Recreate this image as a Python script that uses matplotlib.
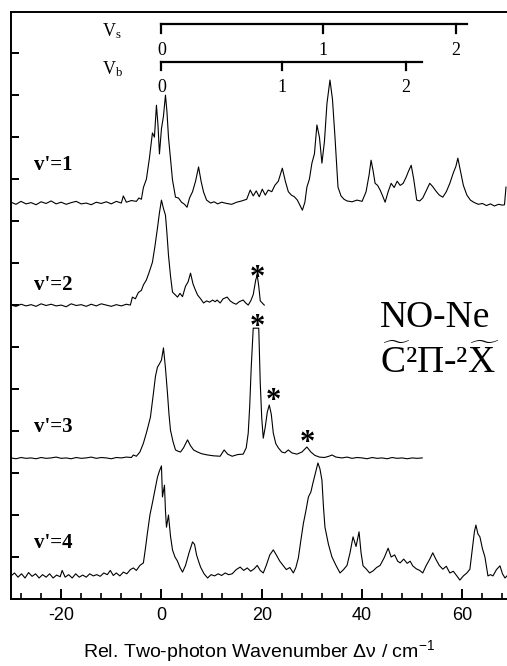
import numpy as np
import matplotlib
matplotlib.use('Agg')
import matplotlib.pyplot as plt
from matplotlib.ticker import MultipleLocator

plt.rcParams['mathtext.fontset'] = 'custom'
plt.rcParams['mathtext.rm'] = 'Liberation Serif'
plt.rcParams['mathtext.it'] = 'Liberation Serif:italic'
plt.rcParams['mathtext.sf'] = 'Liberation Sans'
plt.rcParams['axes.unicode_minus'] = False

# ---------------- данные ----------------
# v'=1
x1 = [-30, -29, -28, -27, -26, -25, -24, -23, -22, -21, -20, -19, -18, -17, -16, -15,
      -14, -13, -12, -11, -10, -9, -8, -7.6, -7, -6, -5, -4.5, -4, -3.6, -3, -2.4,
      -1.8, -1.4, -1.0, -0.7, -0.4, 0, 0.4, 0.8, 1.1, 1.4, 1.8, 2.2, 2.8, 3.4, 4.0,
      4.6, 5.1, 5.6, 6.2, 6.8, 7.4, 7.9, 8.4, 9.0, 9.8, 10.5, 11.2, 12, 13, 14, 15,
      16, 17, 17.7, 18.3, 18.9, 19.5, 20.1, 20.7, 21.3, 22, 22.6, 23.3, 24.1, 24.7,
      25.3, 25.9, 26.5, 27.1, 27.6, 28.1, 28.6, 29, 29.5, 30, 30.5, 31, 31.5, 32,
      32.5, 33, 33.6, 34.1, 34.6, 35.2, 35.8, 36.4, 37, 38, 39, 40, 40.8, 41.4, 41.8,
      42.2, 42.6, 43.1, 43.6, 44.1, 44.6, 45.2, 45.8, 46.4, 47, 47.6, 48.2, 48.8,
      49.3, 49.8, 50.3, 50.9, 51.5, 52.1, 52.7, 53.5, 54.1, 54.7, 55.4, 56.1, 56.8,
      57.5, 58.2, 58.7, 59.1, 59.6, 60.2, 60.9, 61.6, 62.4, 63.2, 64, 64.8, 65.6,
      66.4, 67.2, 68, 68.4, 68.7]
y1 = [9.45, 9.40, 9.47, 9.41, 9.44, 9.39, 9.46, 9.42, 9.48, 9.41, 9.45, 9.40, 9.44,
      9.47, 9.41, 9.43, 9.39, 9.45, 9.42, 9.46, 9.41, 9.47, 9.43, 9.60, 9.45, 9.49,
      9.47, 9.55, 9.52, 9.80, 10.0, 10.5, 11.1, 11.0, 11.76, 11.3, 10.6, 11.2, 11.5,
      12.0, 11.6, 11.0, 10.5, 9.98, 9.57, 9.55, 9.45, 9.40, 9.33, 9.55, 9.70, 9.95,
      10.29, 9.95, 9.69, 9.50, 9.43, 9.46, 9.41, 9.45, 9.42, 9.40, 9.45, 9.48, 9.52,
      9.74, 9.60, 9.72, 9.58, 9.76, 9.62, 9.74, 9.70, 9.85, 9.95, 10.26, 9.95, 9.70,
      9.62, 9.58, 9.50, 9.38, 9.26, 9.45, 9.81, 10.0, 10.38, 10.6, 11.29, 11.0, 10.38,
      10.9, 11.8, 12.36, 11.9, 11.0, 9.81, 9.60, 9.52, 9.48, 9.46, 9.50, 9.47, 9.7,
      10.1, 10.45, 10.2, 9.9, 9.85, 9.74, 9.6, 9.45, 9.7, 9.9, 9.8, 9.95, 9.85, 9.9,
      10.05, 10.2, 10.33, 10.0, 9.5, 9.48, 9.55, 9.7, 9.9, 9.82, 9.72, 9.62, 9.57,
      9.7, 9.9, 10.15, 10.3, 10.5, 10.2, 9.85, 9.62, 9.5, 9.44, 9.40, 9.42, 9.37,
      9.41, 9.36, 9.40, 9.38, 9.39, 9.81]

# v'=2
x2 = [-30, -29, -28, -27, -26, -25, -24, -23, -22, -21, -20, -19, -18, -17, -16, -15,
      -14, -13, -12, -11, -10, -9, -8, -7, -6.2, -5.8, -5.2, -4.6, -4.0, -3.6, -3.0,
      -2.4, -1.8, -1.3, -0.8, -0.4, 0, 0.4, 0.8, 1.1, 1.4, 1.8, 2.2, 2.7, 3.2, 3.7,
      4.2, 4.8, 5.3, 5.8, 6.3, 6.8, 7.2, 7.8, 8.4, 9.0, 9.6, 10.2, 10.7, 11.1, 11.7,
      12.3, 13.1, 13.7, 14.3, 14.9, 15.5, 16.3, 16.8, 17.3, 17.8, 18.3, 18.8, 19.1,
      19.4, 19.7, 20.1, 20.5]
y2 = [7.0, 6.97, 7.02, 6.98, 7.01, 6.97, 7.03, 6.99, 7.02, 6.98, 7.0, 6.96, 7.03,
      6.99, 7.01, 6.97, 7.02, 6.98, 7.03, 7.0, 6.97, 7.01, 6.98, 7.02, 7.0, 7.19,
      7.15, 7.3, 7.35, 7.48, 7.6, 7.8, 8.02, 8.4, 8.83, 9.2, 9.5, 9.3, 9.14, 8.7,
      8.19, 7.7, 7.31, 7.25, 7.19, 7.28, 7.2, 7.45, 7.55, 7.76, 7.5, 7.35, 7.24,
      7.15, 7.05, 7.1, 7.07, 7.12, 7.08, 7.12, 7.05, 7.15, 7.19, 7.1, 7.05, 7.02,
      7.08, 7.12, 7.05, 7.0, 7.1, 7.25, 7.6, 7.71, 7.45, 7.1, 7.05, 7.0]

# v'=3
x3 = [-30, -29, -28, -27, -26, -25, -24, -23, -22, -21, -20, -19, -18, -17, -16, -15,
      -14, -13, -12, -11, -10, -9, -8, -7, -6, -5.6, -5, -4.3, -3.6, -2.9, -2.2, -1.6,
      -1.2, -0.8, -0.4, 0, 0.4, 0.8, 1.2, 1.5, 1.8, 2.3, 2.8, 3.3, 3.8, 4.4, 5.2, 5.8,
      6.4, 7.2, 8.0, 9.2, 10.4, 11.7, 12.5, 13.2, 14.1, 15.2, 16.3, 16.9, 17.3, 17.6,
      17.9, 18.3, 18.8, 19.4, 19.7, 20.0, 20.3, 20.7, 21.1, 21.5, 21.9, 22.3, 22.8,
      23.3, 24.0, 24.6, 25.3, 26, 27, 28, 29, 29.8, 30.6, 31.5, 32.5, 33.4, 34, 34.8,
      36, 37, 38, 39, 40, 41, 42, 43, 44, 45, 46, 47, 48, 49, 50, 51, 52]
y3 = [3.36, 3.34, 3.37, 3.35, 3.36, 3.34, 3.37, 3.35, 3.36, 3.38, 3.35, 3.36, 3.34,
      3.37, 3.35, 3.36, 3.38, 3.35, 3.37, 3.36, 3.34, 3.37, 3.36, 3.38, 3.37, 3.43,
      3.40, 3.5, 3.71, 4.0, 4.33, 4.9, 5.3, 5.52, 5.6, 5.69, 5.98, 5.5, 4.9, 4.4,
      4.02, 3.75, 3.55, 3.52, 3.5, 3.6, 3.79, 3.65, 3.55, 3.5, 3.46, 3.43, 3.41, 3.4,
      3.55, 3.45, 3.40, 3.44, 3.45, 3.6, 3.95, 4.6, 5.52, 6.45, 6.45, 6.45, 5.14, 4.3,
      3.83, 4.1, 4.45, 4.62, 4.4, 3.95, 3.7, 3.6, 3.5, 3.48, 3.55, 3.48, 3.45, 3.5,
      3.62, 3.5, 3.42, 3.38, 3.37, 3.4, 3.43, 3.38, 3.36, 3.38, 3.35, 3.37, 3.36,
      3.34, 3.37, 3.35, 3.36, 3.34, 3.37, 3.35, 3.36, 3.34, 3.36, 3.35, 3.36]

# v'=4
x4 = [-30, -29.3, -28.6, -27.9, -27.2, -26.5, -25.8, -25.1, -24.4, -23.7, -23, -22.3,
      -21.6, -20.9, -20.2, -19.8, -19.2, -18.5, -17.8, -17.1, -16.4, -15.7, -15,
      -14.3, -13.6, -12.9, -12.2, -11.5, -10.8, -10.2, -9.6, -9, -8.3, -7.6, -6.9,
      -6.2, -5.6, -5, -4.3, -3.6, -3.2, -2.8, -2.3, -1.8, -1.3, -0.8, -0.4, 0, 0.2,
      0.6, 0.8, 1.0, 1.4, 1.8, 2.2, 2.7, 3.2, 3.7, 4.2, 4.8, 5.5, 6.2, 6.6, 7.0, 7.4,
      7.8, 8.5, 9.2, 9.9, 10.6, 11.3, 12, 12.7, 13.4, 14.1, 14.9, 15.7, 16.4, 17.1,
      17.8, 18.5, 19.1, 19.7, 20.3, 20.9, 21.6, 22.3, 22.9, 23.6, 24.3, 24.9, 25.6,
      26.3, 26.8, 27.3, 27.8, 28.3, 28.8, 29.3, 29.8, 30.2, 30.7, 31.2, 31.6, 32.0,
      32.3, 32.6, 33.3, 34.0, 34.8, 35.6, 36.3, 37, 37.6, 38.2, 38.8, 39.4, 39.8,
      40.2, 40.8, 41.5, 42.2, 42.9, 43.6, 44.4, 45.2, 45.8, 46.5, 47.1, 47.6, 48.3,
      49.0, 49.6, 50.1, 50.8, 51.5, 52.1, 52.8, 53.5, 54.1, 54.7, 55.4, 56.1, 56.8,
      57.5, 58.2, 58.9, 59.5, 60.2, 60.9, 61.5, 62.0, 62.4, 62.7, 63.1, 63.5, 64,
      64.5, 65.1, 65.6, 66.1, 66.8, 67.5, 68, 68.5, 68.9]
y4 = [0.55, 0.62, 0.52, 0.6, 0.5, 0.63, 0.54, 0.6, 0.5, 0.58, 0.52, 0.6, 0.5, 0.57,
      0.53, 0.68, 0.52, 0.58, 0.5, 0.6, 0.52, 0.57, 0.52, 0.6, 0.55, 0.58, 0.54, 0.62,
      0.58, 0.68, 0.56, 0.62, 0.55, 0.64, 0.6, 0.7, 0.74, 0.68, 0.8, 0.86, 1.2, 1.57,
      2.0, 2.29, 2.6, 2.9, 3.05, 3.17, 2.43, 2.71, 2.1, 1.71, 2.0, 1.5, 1.17, 1.0,
      0.9, 0.75, 0.64, 0.8, 1.1, 1.36, 1.3, 1.05, 0.9, 0.76, 0.6, 0.5, 0.58, 0.55,
      0.6, 0.56, 0.62, 0.58, 0.6, 0.7, 0.76, 0.68, 0.74, 0.66, 0.72, 0.8, 0.68, 0.62,
      0.8, 1.05, 1.17, 1.05, 0.9, 0.79, 0.7, 0.75, 0.62, 0.75, 0.98, 1.4, 1.8, 2.1,
      2.43, 2.55, 2.76, 3.0, 3.24, 3.1, 2.83, 2.2, 1.71, 1.3, 1.0, 0.8, 0.62, 0.7,
      0.8, 1.1, 1.48, 1.25, 1.6, 1.1, 0.79, 0.72, 0.62, 0.67, 0.75, 0.8, 0.98, 1.21,
      1.0, 1.05, 0.9, 0.86, 0.95, 0.85, 0.9, 0.79, 0.72, 0.68, 0.62, 0.8, 0.95, 1.1,
      0.95, 0.8, 0.71, 0.78, 0.62, 0.66, 0.55, 0.45, 0.55, 0.62, 0.71, 1.2, 1.6,
      1.76, 1.55, 1.48, 1.2, 1.0, 0.55, 0.58, 0.55, 0.7, 0.79, 0.6, 0.5, 0.55]

spectra = [(x1, y1), (x2, y2), (x3, y3), (x4, y4)]
level_labels = ["v'=1", "v'=2", "v'=3", "v'=4"]
label_y = [10.33, 7.48, 4.10, 1.33]

# прогрессии v_s и v_b
vs_pos = [0, 32.2, 58.7]
vs_end = 60.9
vb_pos = [0, 24.0, 48.8]
vb_end = 51.9
prog_labels = ['0', '1', '2']

# звёздочки (x, y)
star_x = [19.2, 19.1, 22.3, 29.1]
star_y = [7.64, 6.46, 4.71, 3.71]

# ---------------- рисунок ----------------
fig = plt.figure(figsize=(5.07, 6.66), dpi=100)
ax = fig.add_axes([11 / 507, 1 - 599 / 666, 1 - 11 / 507, (599 - 12) / 666])

for xs, ys in spectra:
    ax.plot(xs, ys, color='black', lw=0.8)

ax.set_xlim(-30, 68.9)
ax.set_ylim(0, 13.98)

# оси
ax.spines['right'].set_visible(False)
for s in ['left', 'top', 'bottom']:
    ax.spines[s].set_linewidth(1.4)
ax.xaxis.set_major_locator(MultipleLocator(20))
ax.xaxis.set_minor_locator(MultipleLocator(4))
ax.yaxis.set_major_locator(MultipleLocator(1))
ax.tick_params(axis='x', which='major', direction='in', length=7, width=1.4,
               labelsize=13, pad=6, top=False)
ax.tick_params(axis='x', which='minor', direction='in', length=4, width=1.2, top=False)
ax.tick_params(axis='y', which='major', direction='in', length=6, width=1.4,
               labelleft=False, right=False)
for lbl in ax.get_xticklabels():
    lbl.set_fontfamily('Liberation Sans')

ax.set_xlabel('Rel. Two-photon Wavenumber \u0394\u03bd / cm$\\mathsf{^{-1}}$',
              fontsize=14, fontfamily='Liberation Sans', labelpad=10)

# прогрессии
def comb(ypos, positions, end, name, label_dy):
    ax.plot([positions[0], end], [ypos, ypos], color='black', lw=1.6)
    for p, t in zip(positions, prog_labels):
        ax.plot([p, p], [ypos, ypos - 0.2], color='black', lw=1.6)
        ax.text(p, ypos - label_dy, t, ha='center', va='center', fontsize=13,
                fontfamily='Liberation Serif')
    ax.text(-11.8, ypos - 0.17, name, ha='left', va='center', fontsize=13,
            fontfamily='Liberation Serif')

comb(13.69, vs_pos, vs_end, r'V$_\mathrm{s}$', 0.62)
comb(12.79, vb_pos, vb_end, r'V$_\mathrm{b}$', 0.60)

# подписи уровней
for t, yy in zip(level_labels, label_y):
    ax.text(-25.5, yy, t, ha='left', va='center', fontsize=15, fontweight='bold',
            fontfamily='Liberation Serif')

# звёздочки
for sx, sy in zip(star_x, star_y):
    ax.text(sx, sy, '*', ha='center', va='center', fontsize=22, fontweight='bold',
            fontfamily='Liberation Serif')

# название
ax.text(43.6, 6.71, 'NO-Ne', ha='left', va='center', fontsize=27,
        fontfamily='Liberation Serif')
ax.text(43.6, 5.64, r'$\widetilde{\mathrm{C}}$' + '\u00b2\u03a0-\u00b2' + r'$\widetilde{\mathrm{X}}$',
        ha='left', va='center', fontsize=27, fontfamily='Liberation Serif')

fig.savefig('out.png', dpi=100)
